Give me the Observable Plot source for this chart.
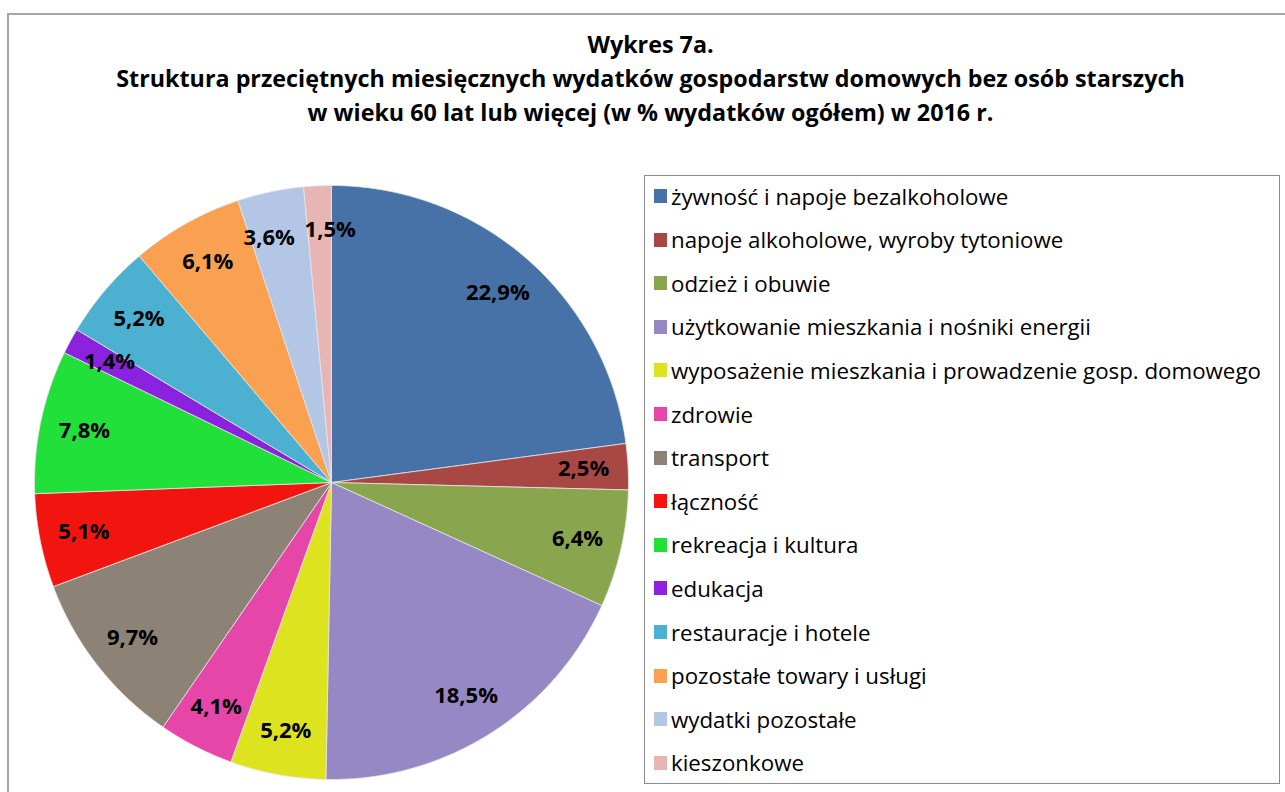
<!DOCTYPE html>
<html lang="pl">
<head>
<meta charset="utf-8">
<script src="https://cdn.jsdelivr.net/npm/d3@7"></script>
<script src="https://cdn.jsdelivr.net/npm/@observablehq/plot@0.6"></script>
<style>
  html, body { margin: 0; padding: 0; background: #fff; width: 1285px; height: 792px; overflow: hidden; }
  body { position: relative; font-family: "Open Sans", Lato, sans-serif; }
  #frame { position: absolute; left: 7px; top: 13px; width: 1300px; height: 820px; border: 2px solid #a6a6a6; box-sizing: border-box; }
  #title { position: absolute; left: 8px; top: 27px; width: 1285px; text-align: center; font-weight: bold; font-size: 23.3px; line-height: 34px; color: #000; }
  #chart { position: absolute; left: 11px; top: 162px; }
  #legend { position: absolute; left: 644px; top: 175px; width: 636px; height: 609px; border: 1px solid #8c8c8c; box-sizing: border-box; }
  .item { position: absolute; left: 9px; height: 24px; display: flex; align-items: center; font-size: 22.3px; color: #000; white-space: nowrap; }
  .sw { width: 13px; height: 14px; margin-right: 4px; flex: none; }
</style>
</head>
<body>
<div id="frame"></div>
<div id="title"></div>
<div id="chart"></div>
<div id="legend"></div>
<script>
const titleLines = [
  "Wykres 7a.",
  "Struktura przeciętnych miesięcznych wydatków gospodarstw domowych bez osób starszych",
  "w wieku 60 lat lub więcej (w % wydatków ogółem) w 2016 r."
];
const categories = [
  "żywność i napoje bezalkoholowe",
  "napoje alkoholowe, wyroby tytoniowe",
  "odzież i obuwie",
  "użytkowanie mieszkania i nośniki energii",
  "wyposażenie mieszkania i prowadzenie gosp. domowego",
  "zdrowie",
  "transport",
  "łączność",
  "rekreacja i kultura",
  "edukacja",
  "restauracje i hotele",
  "pozostałe towary i usługi",
  "wydatki pozostałe",
  "kieszonkowe"
];
const values = [22.9, 2.5, 6.4, 18.5, 5.2, 4.1, 9.7, 5.1, 7.8, 1.4, 5.2, 6.1, 3.6, 1.5];
const colors = [
  "#4672a8", "#a94744", "#89a54e", "#9688c4", "#dde31f", "#e646a8", "#8d8276",
  "#f2150f", "#22e03a", "#8a22e0", "#4cb1d1", "#f9a051", "#b4c6e5", "#e8b5b5"
];

document.getElementById("title").innerHTML = titleLines.map(t => `<div>${t}</div>`).join("");

const R = 297;            // pie radius in px (plot range half-width)
const labelFont = 22;     // label font size
const labelR = 0.85;      // label radius as fraction of R

// build slice polygons (angles clockwise from top)
const total = d3.sum(values);
const polys = [];
const labelData = [];
let cum = 0;
categories.forEach((key, i) => {
  const a0 = cum / total * 2 * Math.PI;
  cum += values[i];
  const a1 = cum / total * 2 * Math.PI;
  const n = Math.max(2, Math.ceil((a1 - a0) / (Math.PI / 360)));
  polys.push({key, x: 0, y: 0});
  for (let k = 0; k <= n; k++) {
    const a = a0 + (a1 - a0) * k / n;
    polys.push({key, x: Math.sin(a), y: Math.cos(a)});
  }
  polys.push({key, x: 0, y: 0});
  const text = values[i].toFixed(1).replace(".", ",") + "%";
  const w = (text.length - 2) * 0.572 * labelFont + 0.27 * labelFont + 0.87 * labelFont;
  labelData.push({key, a: (a0 + a1) / 2, text, w});
});

// simple collision resolution between neighbouring labels: spread them angularly
const pos = d => [labelR * R * Math.sin(d.a), -labelR * R * Math.cos(d.a)];
const overlaps = (p, q) => {
  const [x1, y1] = pos(p), [x2, y2] = pos(q);
  return Math.abs(x1 - x2) < (p.w + q.w) / 2 + 9 && Math.abs(y1 - y2) < labelFont;
};
const step = 0.2 * Math.PI / 180;
for (let iter = 0; iter < 200; iter++) {
  let moved = false;
  for (let i = 0; i < labelData.length; i++) {
    const p = labelData[i], q = labelData[(i + 1) % labelData.length];
    if (overlaps(p, q)) { p.a -= step; q.a += step; moved = true; }
  }
  if (!moved) break;
}
labelData.forEach(d => { d.x = labelR * Math.sin(d.a); d.y = labelR * Math.cos(d.a); });

const plot = Plot.plot({
  width: 640,
  height: 640,
  marginTop: 23, marginBottom: 23, marginLeft: 23, marginRight: 23,
  x: {domain: [-1, 1], axis: null},
  y: {domain: [-1, 1], axis: null},
  color: {type: "ordinal", domain: categories, range: colors},
  style: {fontFamily: "'Open Sans', Lato, sans-serif", background: "transparent"},
  marks: [
    Plot.line(polys, {x: "x", y: "y", z: "key", fill: "key", stroke: "#e6e6e6", strokeWidth: 0.8, curve: "linear"}),
    Plot.text(labelData, {x: "x", y: "y", text: "text", fontSize: labelFont, fontWeight: "bold", fill: "#000"})
  ]
});
document.getElementById("chart").appendChild(plot);

// legend
const legend = document.getElementById("legend");
categories.forEach((c, i) => {
  const div = document.createElement("div");
  div.className = "item";
  div.style.top = (8 + i * 43.6) + "px";
  div.innerHTML = `<span class="sw" style="background:${colors[i]}"></span><span>${c}</span>`;
  legend.appendChild(div);
});
</script>
</body>
</html>
